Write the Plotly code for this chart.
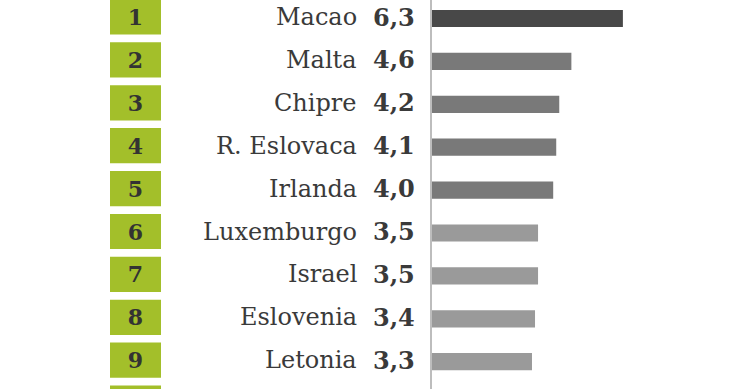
import plotly.graph_objects as go

ranks = [1, 2, 3, 4, 5, 6, 7, 8, 9, 10]
countries = ["Macao", "Malta", "Chipre", "R. Eslovaca", "Irlanda",
             "Luxemburgo", "Israel", "Eslovenia", "Letonia"]
values = [6.3, 4.6, 4.2, 4.1, 4.0, 3.5, 3.5, 3.4, 3.3]
bar_colors = ["#484848", "#797979", "#797979", "#797979", "#797979",
              "#9a9a9a", "#9a9a9a", "#9a9a9a", "#9a9a9a"]

W, H = 740, 389
FONT = "DejaVu Serif"
TXT = "#3a3a3a"

fig = go.Figure()

rank_text = [f"<b>{r}</b>" if i < len(countries) else "" for i, r in enumerate(ranks)]

# green rank boxes
fig.add_trace(go.Bar(
    x=[1] * len(ranks), y=ranks, orientation="h",
    xaxis="x2", yaxis="y",
    marker=dict(color="#a3bf2a", line=dict(width=0)),
    width=0.82,
    text=rank_text, textposition="inside",
    insidetextanchor="middle", constraintext="none",
    textfont=dict(family=FONT, size=22, color="#333333"),
    hoverinfo="skip", showlegend=False,
))

# value bars
fig.add_trace(go.Bar(
    x=values, y=ranks[:len(values)], orientation="h",
    xaxis="x", yaxis="y",
    marker=dict(color=bar_colors, line=dict(width=0)),
    width=0.4, offset=-0.165,
    hoverinfo="skip", showlegend=False,
))

annotations = []
for r, c, v in zip(ranks, countries, values):
    annotations.append(dict(
        x=359 / W, xref="paper", y=r, yref="y", text=c,
        xanchor="right", yanchor="middle", showarrow=False,
        font=dict(family=FONT, size=24, color=TXT),
    ))
    annotations.append(dict(
        x=417 / W, xref="paper", y=r, yref="y",
        text="<b>" + f"{v:.1f}".replace(".", ",") + "</b>",
        xanchor="right", yanchor="middle", showarrow=False,
        font=dict(family=FONT, size=24, color=TXT),
    ))

fig.update_layout(
    width=W, height=H,
    margin=dict(l=0, r=0, t=0, b=0),
    paper_bgcolor="white", plot_bgcolor="rgba(0,0,0,0)",
    barmode="overlay",
    hovermode=False,
    xaxis=dict(domain=[432 / W, 1], range=[0, 308 / 30.3],
               showgrid=False, zeroline=False, showticklabels=False,
               showline=False),
    xaxis2=dict(domain=[110 / W, 161 / W], range=[0, 1],
                showgrid=False, zeroline=False, showticklabels=False,
                showline=False, anchor="y"),
    yaxis=dict(range=[1 - 17 / 42.9 + 389 / 42.9, 1 - 17 / 42.9],
               showgrid=False, zeroline=False, showticklabels=False,
               showline=True, linecolor="#bdbdbd", linewidth=2,
               anchor="x"),
    annotations=annotations,
)

fig.write_html(
    "out.html",
    config={"displayModeBar": False, "staticPlot": True},
    post_script="document.body.style.margin='0';document.body.style.overflow='hidden';",
)
